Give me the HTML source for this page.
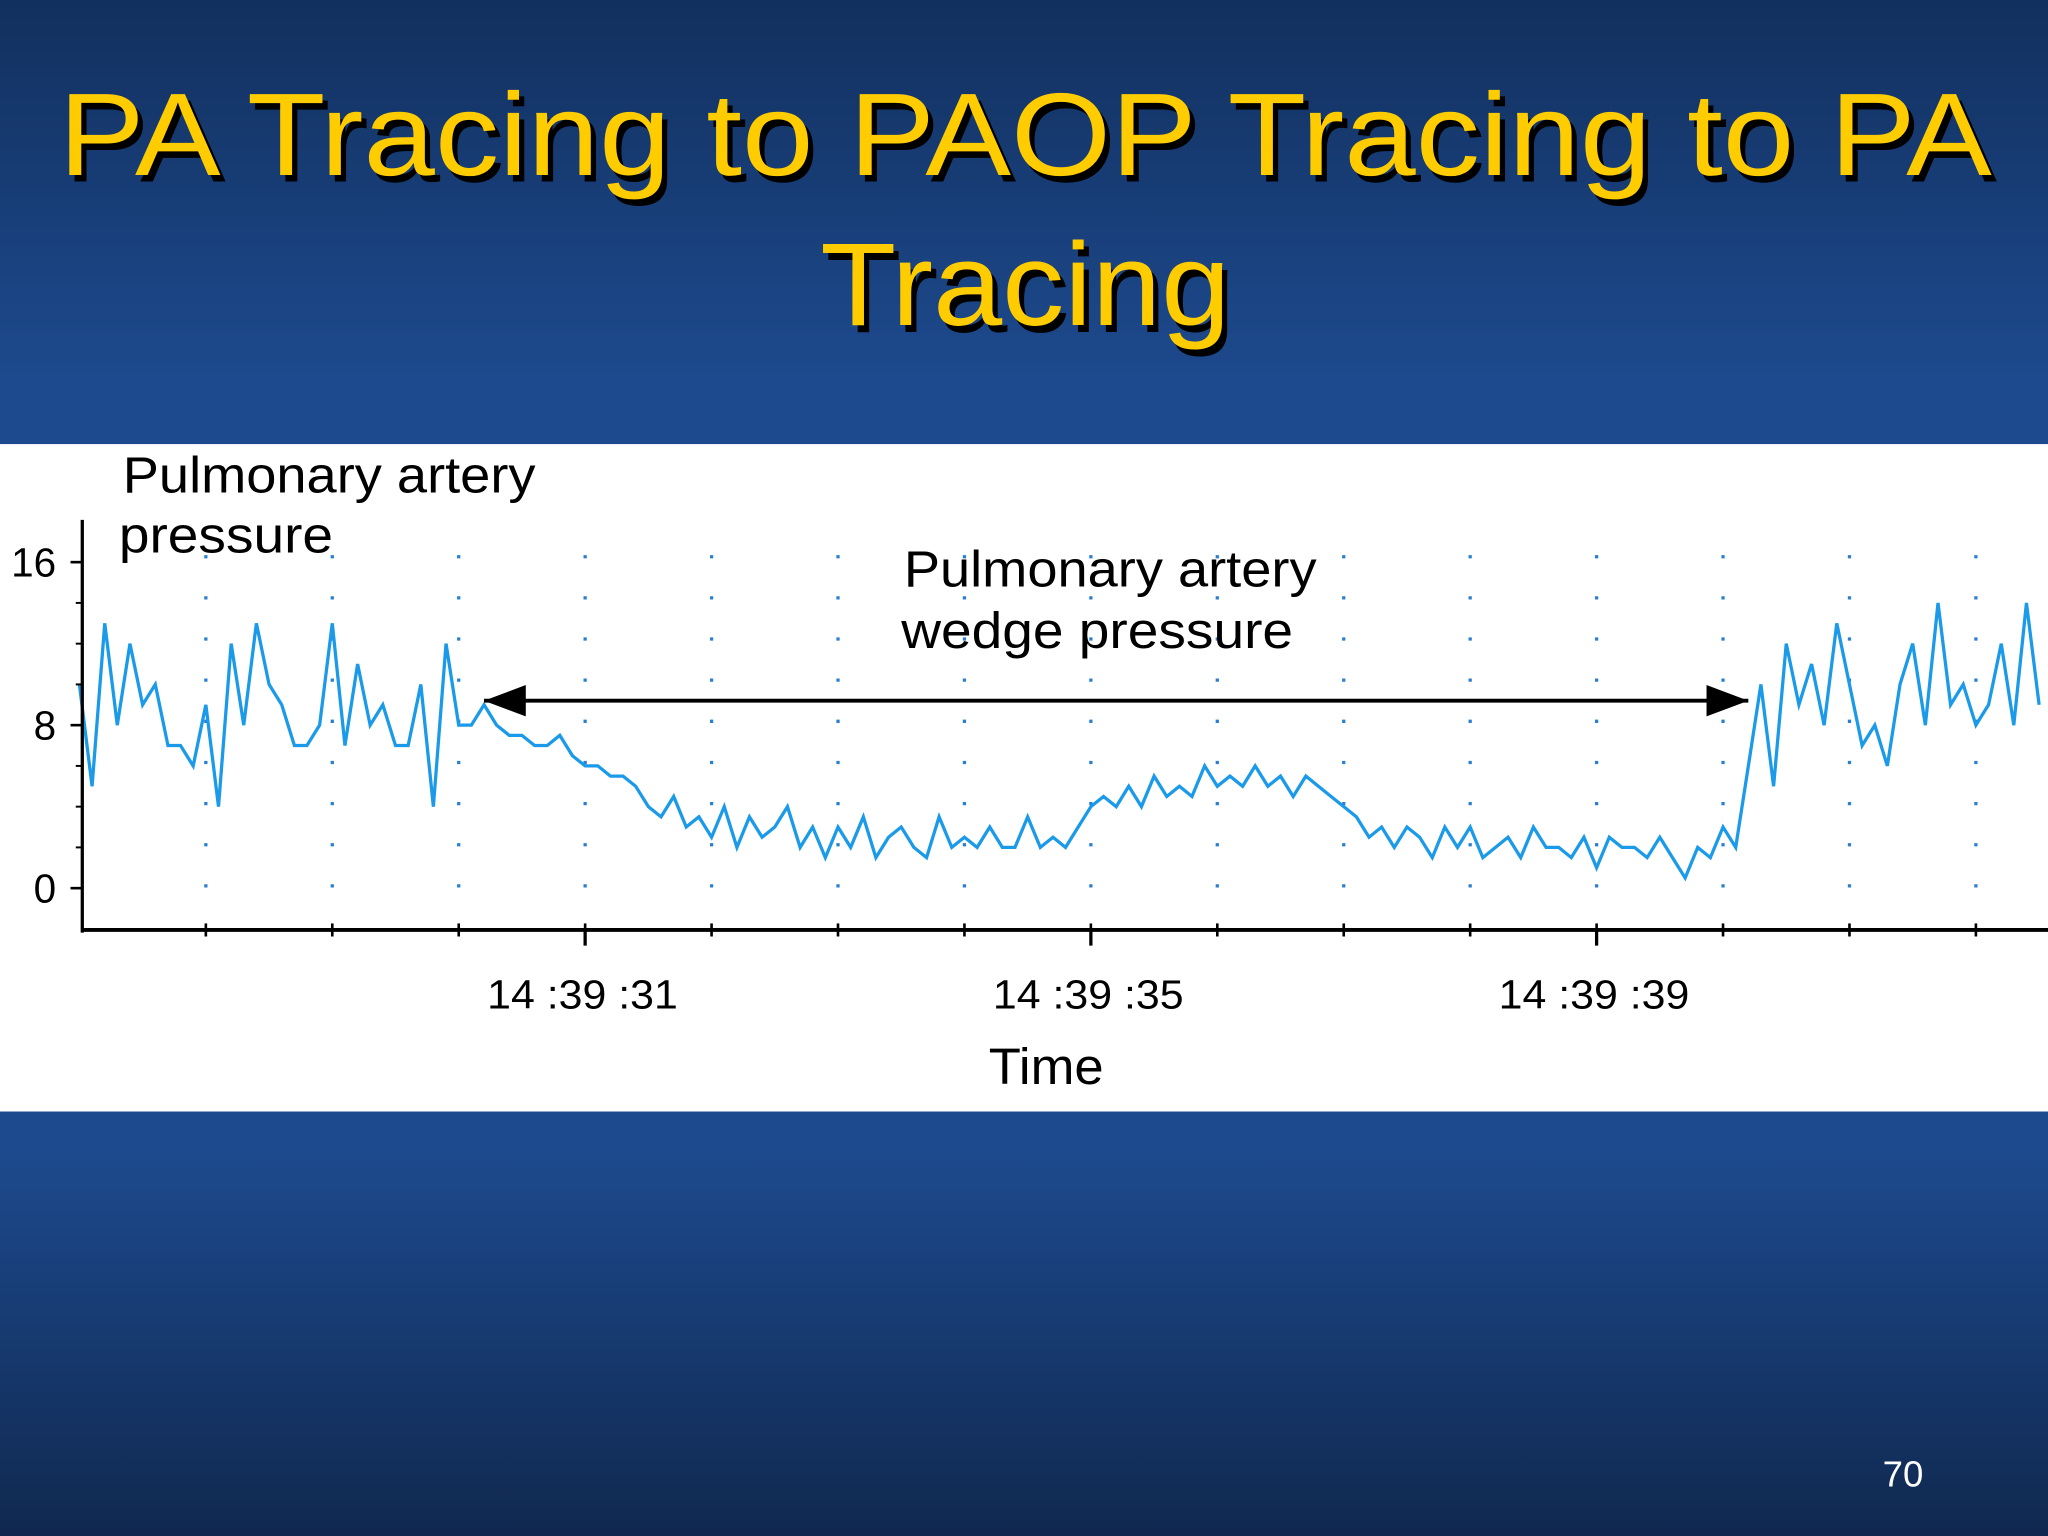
<!DOCTYPE html>
<html><head><meta charset="utf-8"><style>
html,body{margin:0;padding:0;width:2048px;height:1536px;overflow:hidden;background:#123466}
svg{display:block}
</style></head><body>
<svg width="2048" height="1536" viewBox="0 0 1568 1176" xmlns="http://www.w3.org/2000/svg" font-family="Liberation Sans, sans-serif">
<defs>
<linearGradient id="bg" x1="0" y1="0" x2="0" y2="1">
<stop offset="0" stop-color="#12305e"/><stop offset="0.25" stop-color="#1d4a8e"/><stop offset="0.75" stop-color="#1d4a8e"/><stop offset="1" stop-color="#10284f"/>
</linearGradient>
</defs>
<rect x="0" y="0" width="1568" height="1176" fill="url(#bg)"/>
<g font-size="90" text-anchor="middle">
<text x="789" y="139" fill="#000" textLength="1480" lengthAdjust="spacingAndGlyphs">PA Tracing to PAOP Tracing to PA</text>
<text x="785" y="134" fill="#FFCC00" textLength="1480" lengthAdjust="spacingAndGlyphs">PA Tracing to PAOP Tracing to PA</text>
<text x="789" y="254" fill="#000" textLength="314" lengthAdjust="spacingAndGlyphs">Tracing</text>
<text x="785" y="249" fill="#FFCC00" textLength="314" lengthAdjust="spacingAndGlyphs">Tracing</text>
</g>
<rect x="0" y="340" width="1568" height="511" fill="#fff"/>
<g id="chart"></g>
<text x="1457" y="1138" fill="#fff" font-size="28" text-anchor="middle">70</text>
</svg>
<script>
const startT = 27.0;
const dt = 0.1;
const values = [10,5,13,8,12,9,10,7,7,6,9,4,12,8,13,10,9,7,7,8,13,7,11,8,9,7,7,10,4,12,8,
8,9,8,7.5,7.5,7,7,7.5,
6.5,6,6,5.5,5.5,5,4,
3.5,4.5,3,3.5,2.5,4,2,3.5,2.5,3,4,2,3,1.5,3,2,3.5,1.5,2.5,3,2,1.5,3.5,2,2.5,2,3,2,2,3.5,2,2.5,2,3,
4,4.5,4,5,4,5.5,4.5,5,4.5,6,5,5.5,5,6,5,5.5,4.5,5.5,5,4.5,4,
3.5,2.5,3,2,3,2.5,1.5,3,2,3,1.5,2,2.5,1.5,3,2,2,1.5,2.5,1,2.5,2,2,1.5,2.5,1.5,0.5,2,1.5,3,
2,6,10,5,12,9,11,8,13,10,7,8,6,10,12,8,14,9,10,8,9,12,8,14,9];
const yTicks = [0,8,16];
const xMajor = [31,35,39];
const xMajorLabels = ["14 :39 :31","14 :39 :35","14 :39 :39"];
const xMinor = [28,29,30,31,32,33,34,35,36,37,38,39,40,41,42];
const arrowRange = [30.2, 40.2];
const arrowLevel = 9.2;

const xs = t => 448 + (t - 31) * 96.8;
const ys = v => 680 - v * 15.6;
const NS = "http://www.w3.org/2000/svg";
const g = document.getElementById('chart');
function mk(tag, attrs, text){const e=document.createElementNS(NS,tag);for(const k in attrs)e.setAttribute(k,attrs[k]);if(text!==undefined)e.textContent=text;g.appendChild(e);return e;}

xMinor.forEach(t=>{
  const l=mk('line',{x1:xs(t),x2:xs(t),y1:425,y2:700,stroke:'#2a7fd0','stroke-width':2.5,'stroke-dasharray':'2.5 29'});
  
  
  const k=mk('line',{x1:xs(t),x2:xs(t),y1:707,y2:717,stroke:'#000','stroke-width':2});
  
  
});
let d='';
values.forEach((v,i)=>{d+=(i?'L':'M')+xs(startT+i*dt).toFixed(1)+' '+ys(v).toFixed(1);});
const p=mk('path',{d:d,fill:'none',stroke:'#1a9ae8','stroke-width':2.5});



const ya=mk('line',{x1:63,x2:63,y1:398,y2:714,stroke:'#000','stroke-width':2.5});


const xa=mk('line',{x1:62,x2:1568,y1:712,y2:712,stroke:'#000','stroke-width':3});


for(let v=0;v<=17;v+=2){const m=mk('line',{x1:58,x2:63,y1:ys(v),y2:ys(v),stroke:'#000','stroke-width':1.5});}
yTicks.forEach(v=>{
  const t=mk('line',{x1:54,x2:63,y1:ys(v),y2:ys(v),stroke:'#000','stroke-width':2});
  
  
  const lb=mk('text',{x:43,y:ys(v)+11,'font-size':31,'text-anchor':'end',fill:'#000'},String(v));
  
  
});
xMajor.forEach((t,i)=>{
  const k=mk('line',{x1:xs(t),x2:xs(t),y1:712,y2:724,stroke:'#000','stroke-width':2.5});
  
  
  const lb=mk('text',{x:xs(t)-2,y:772,'font-size':31,'text-anchor':'middle',fill:'#000',textLength:146,lengthAdjust:'spacingAndGlyphs'},xMajorLabels[i]);
  
  
});
const xt=mk('text',{x:801,y:830,'font-size':39,'text-anchor':'middle',fill:'#000',textLength:88,lengthAdjust:'spacingAndGlyphs'},'Time');


const yt1=mk('text',{x:94,y:377,'font-size':39,fill:'#000',textLength:316,lengthAdjust:'spacingAndGlyphs'},'Pulmonary artery');


const yt2=mk('text',{x:91,y:423,'font-size':39,fill:'#000',textLength:164,lengthAdjust:'spacingAndGlyphs'},'pressure');


const w1=mk('text',{x:692,y:449,'font-size':39,fill:'#000',textLength:316,lengthAdjust:'spacingAndGlyphs'},'Pulmonary artery');


const w2=mk('text',{x:690,y:496,'font-size':39,fill:'#000',textLength:300,lengthAdjust:'spacingAndGlyphs'},'wedge pressure');



const ax1=xs(arrowRange[0]), ax2=xs(arrowRange[1]), ay=ys(arrowLevel);
const al=mk('line',{x1:ax1,x2:ax2,y1:ay,y2:ay,stroke:'#000','stroke-width':3});


const h1=mk('polygon',{points:`${ax1},${ay} ${ax1+32},${ay-12} ${ax1+32},${ay+12}`,fill:'#000'});


const h2=mk('polygon',{points:`${ax2},${ay} ${ax2-32},${ay-12} ${ax2-32},${ay+12}`,fill:'#000'});


</script>
</body></html>
